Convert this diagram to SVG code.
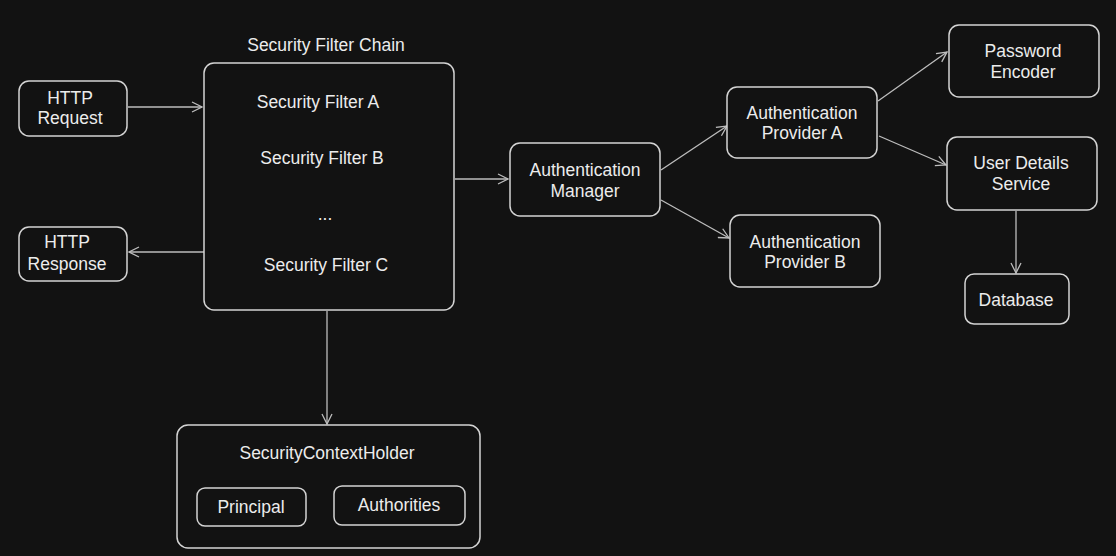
<svg xmlns="http://www.w3.org/2000/svg" width="1116" height="556" viewBox="0 0 1116 556">
<style>
.box{fill:#121212;stroke:#d4d4d4;stroke-width:1.5}
.t{font-family:"Liberation Sans",Arial,sans-serif;font-size:17.5px;fill:#ececec;text-anchor:middle;dominant-baseline:central}
.c{fill:none;stroke:#bdbdbd;stroke-width:1.3}
</style>
<defs>
<marker id="ah" viewBox="0 0 12 12" refX="11" refY="6" markerWidth="12" markerHeight="12" markerUnits="userSpaceOnUse" orient="auto">
<path d="M1,1 L11,6 L1,11" fill="none" stroke="#bdbdbd" stroke-width="1.3"/>
</marker>
</defs>
<rect width="1116" height="556" fill="#121212"/>
<g id="connectors">
<line class="c" x1="128" y1="107" x2="202" y2="107" marker-end="url(#ah)"/>
<line class="c" x1="204" y1="252" x2="129" y2="252" marker-end="url(#ah)"/>
<line class="c" x1="455" y1="179" x2="508" y2="179" marker-end="url(#ah)"/>
<line class="c" x1="661" y1="170" x2="727" y2="126" marker-end="url(#ah)"/>
<line class="c" x1="661" y1="200" x2="729" y2="238" marker-end="url(#ah)"/>
<line class="c" x1="878" y1="101" x2="947" y2="52" marker-end="url(#ah)"/>
<line class="c" x1="879" y1="136" x2="946" y2="165" marker-end="url(#ah)"/>
<line class="c" x1="1016" y1="211" x2="1016" y2="273" marker-end="url(#ah)"/>
<line class="c" x1="327" y1="311" x2="327" y2="424" marker-end="url(#ah)"/>
</g>
<g id="http-request">
<rect class="box" x="19" y="81" width="108" height="55" rx="10"/>
<text class="t" x="70" y="98">HTTP</text>
<text class="t" x="70" y="118">Request</text>
</g>
<g id="http-response">
<rect class="box" x="19" y="227" width="108" height="54" rx="10"/>
<text class="t" x="67" y="242">HTTP</text>
<text class="t" x="67" y="264">Response</text>
</g>
<g id="security-filter-chain">
<text class="t" x="326" y="45">Security Filter Chain</text>
<rect class="box" x="204" y="63" width="250" height="247" rx="10"/>
<text class="t" x="318" y="102">Security Filter A</text>
<text class="t" x="322" y="158">Security Filter B</text>
<text class="t" x="325" y="214">...</text>
<text class="t" x="326" y="265">Security Filter C</text>
</g>
<g id="authentication-manager">
<rect class="box" x="510" y="143" width="150" height="73" rx="10"/>
<text class="t" x="585" y="170">Authentication</text>
<text class="t" x="585" y="191">Manager</text>
</g>
<g id="authentication-provider-a">
<rect class="box" x="727" y="87" width="150" height="71" rx="10"/>
<text class="t" x="802" y="113">Authentication</text>
<text class="t" x="802" y="133">Provider A</text>
</g>
<g id="authentication-provider-b">
<rect class="box" x="730" y="215" width="150" height="72" rx="10"/>
<text class="t" x="805" y="242">Authentication</text>
<text class="t" x="805" y="262">Provider B</text>
</g>
<g id="password-encoder">
<rect class="box" x="949" y="25" width="150" height="72" rx="10"/>
<text class="t" x="1023" y="51">Password</text>
<text class="t" x="1023" y="72">Encoder</text>
</g>
<g id="user-details-service">
<rect class="box" x="947" y="137" width="150" height="73" rx="10"/>
<text class="t" x="1021" y="163">User Details</text>
<text class="t" x="1021" y="184">Service</text>
</g>
<g id="database">
<rect class="box" x="965" y="274" width="104" height="50" rx="9"/>
<text class="t" x="1016" y="300">Database</text>
</g>
<g id="security-context-holder">
<rect class="box" x="177" y="425" width="303" height="123" rx="11"/>
<text class="t" x="327" y="453">SecurityContextHolder</text>
</g>
<g id="principal">
<rect class="box" x="197" y="488" width="109" height="38" rx="8"/>
<text class="t" x="251" y="507">Principal</text>
</g>
<g id="authorities">
<rect class="box" x="334" y="486" width="131" height="39" rx="8"/>
<text class="t" x="399" y="505">Authorities</text>
</g>
</svg>
